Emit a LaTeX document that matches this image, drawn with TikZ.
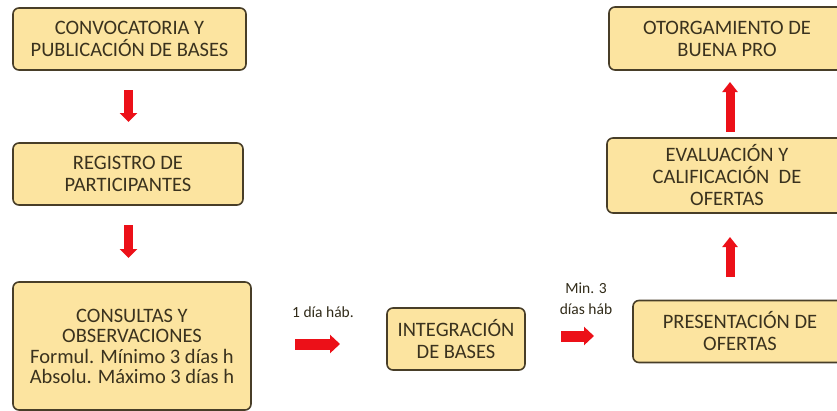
\documentclass[tikz,border=0pt]{standalone}
\usepackage{fontspec}
\setmainfont{Carlito}
\usetikzlibrary{arrows.meta}
\definecolor{boxfill}{RGB}{252,228,160}
\definecolor{boxline}{RGB}{72,62,40}
\definecolor{boxtext}{RGB}{58,50,30}
\definecolor{arrred}{RGB}{236,16,24}
\tikzset{
  stepbox/.style={draw=boxline, line width=1.6pt, fill=boxfill, rounded corners=6pt,
    text=boxtext, align=center, font=\fontsize{20.5}{22}\selectfont, inner sep=0pt},
  vblock/.style={draw=arrred, line width=9pt, -{Triangle[width=17pt,length=9pt]}},
  upblock/.style={draw=arrred, line width=9pt, -{Triangle[width=15pt,length=10pt]}},
  hblock/.style={draw=arrred, line width=11pt, -{Triangle[width=18pt,length=10pt]}},
  small/.style={text=boxtext!85!black, font=\fontsize{15.5}{17}\selectfont, align=center, inner sep=0pt}
}
\begin{document}
\begin{tikzpicture}[x=1pt,y=-1pt]
\useasboundingbox (0,0) rectangle (837,410);
\clip (0,0) rectangle (837,410);
\fill[white] (0,0) rectangle (837,410);
% left column
\node[stepbox, minimum width=233pt, minimum height=62pt] (b1) at (129.5,39) {CONVOCATORIA Y\\PUBLICACIÓN DE BASES};
\node[stepbox, minimum width=230pt, minimum height=62pt] (b2) at (128,174) {REGISTRO DE\\PARTICIPANTES};
\node[stepbox, minimum width=238pt, minimum height=128pt, font=\fontsize{20.5}{20}\selectfont] (b3) at (132,346) {CONSULTAS Y\\OBSERVACIONES\\[1pt]Formul. Mínimo 3 días h\\Absolu. Máximo 3 días h};
% bottom row
\node[stepbox, minimum width=138pt, minimum height=62pt] (b4) at (456,339) {INTEGRACIÓN\\DE BASES};
\node[stepbox, minimum width=214pt, minimum height=62pt] (b5) at (740,331.5) {PRESENTACIÓN DE\\OFERTAS};
% right column
\node[stepbox, minimum width=240pt, minimum height=75pt] (b6) at (727,175.5) {EVALUACIÓN Y\\CALIFICACIÓN\ \ DE\\OFERTAS};
\node[stepbox, minimum width=236pt, minimum height=63pt] (b7) at (727,38.5) {OTORGAMIENTO DE\\BUENA PRO};
% labels
\node[small] (l1) at (323,312) {1 día háb.};
\node[small] (l2) at (586,298.5) {Min. 3\\[4pt]días háb};
% arrow end points
\coordinate (a1s) at (128.5,90);  \coordinate (a1e) at (128.5,122);
\coordinate (a2s) at (128.5,225); \coordinate (a2e) at (128.5,258);
\coordinate (a3s) at (295,344);   \coordinate (a3e) at (340,344);
\coordinate (a4s) at (561,336);   \coordinate (a4e) at (594,336);
\coordinate (a5s) at (730,277);   \coordinate (a5e) at (730,237);
\coordinate (a6s) at (730,132);   \coordinate (a6e) at (730,82);
\draw[vblock] (a1s) -- (a1e);
\draw[vblock] (a2s) -- (a2e);
\draw[hblock] (a3s) -- (a3e);
\draw[hblock] (a4s) -- (a4e);
\draw[upblock] (a5s) -- (a5e);
\draw[upblock] (a6s) -- (a6e);
\end{tikzpicture}
\end{document}
